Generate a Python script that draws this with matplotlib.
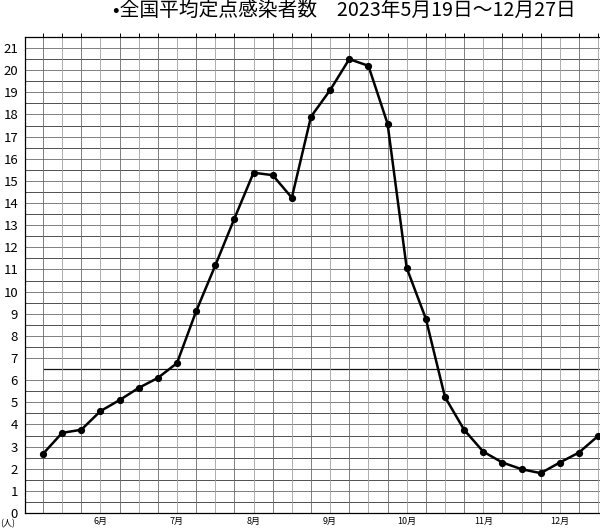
import matplotlib
matplotlib.use("Agg")
import matplotlib.pyplot as plt
import numpy as np

plt.rcParams['font.family'] = ['Noto Sans CJK JP', 'DejaVu Sans']

title = "•全国平均定点感染者数　2023年5月19日～12月27日"
values = [2.67, 3.62, 3.76, 4.6, 5.1, 5.65, 6.1, 6.77, 9.11, 11.18, 13.3, 15.37,
          15.26, 14.24, 17.9, 19.1, 20.5, 20.2, 17.59, 11.07, 8.78, 5.24, 3.76,
          2.77, 2.28, 1.98, 1.80, 2.28, 2.73, 3.48]
month_labels = ["6月", "7月", "8月", "9月", "10月", "11月", "12月"]
month_pos = [3, 7, 11, 15, 19, 23, 27]
y_ticks = list(range(0, 22))
unit_label = "(人)"

fig = plt.figure(figsize=(6.0, 5.31), dpi=100)
ax = fig.add_axes([25/600, 1 - 513/531, 575/600, (513 - 37)/531])

x = np.arange(len(values))
ax.set_xlim(-0.94, 29.1)
ax.set_ylim(0, 21.5)

# grid
for yv in np.arange(0.5, 21.6, 0.5):
    if abs(yv - 6.5) < 1e-6:
        continue
    col = '#333333' if (yv * 2) % 2 == 1 else '#6a6a6a'
    ax.axhline(yv, color=col, lw=0.6, zorder=1)
ax.hlines(6.5, 0, 29.1, color='#111111', lw=0.9, zorder=1)
for xv in x:
    col = '#6a6a6a' if xv % 2 == 0 else '#a0a0a0'
    ax.axvline(xv, color=col, lw=0.6, zorder=1)

ax.plot(x, values, color='black', lw=1.8, marker='o', markersize=4.2, zorder=3,
        clip_on=False)

ax.spines['right'].set_visible(False)
for s in ['left', 'bottom', 'top']:
    ax.spines[s].set_linewidth(0.9)

ax.set_yticks(y_ticks)
ax.set_yticklabels([str(v) for v in y_ticks], fontsize=9.5)
ax.tick_params(axis='y', length=0, pad=5)
ax.set_xticks(month_pos)
ax.set_xticklabels(month_labels, fontsize=6.5)
ax.tick_params(axis='x', length=0, pad=3)

# small ticks on the top line
ax.set_xticks(x, minor=True)
ax.tick_params(axis='x', which='minor', bottom=False, top=True, direction='out',
               length=3, width=0.7)

fig.text(8/600, 1 - 524/531, unit_label, fontsize=6.5, ha='center', va='center')
fig.text(344/600, 1 - 10/531, title, fontsize=14.2, ha='center', va='center')

fig.savefig("out.png", dpi=100)
